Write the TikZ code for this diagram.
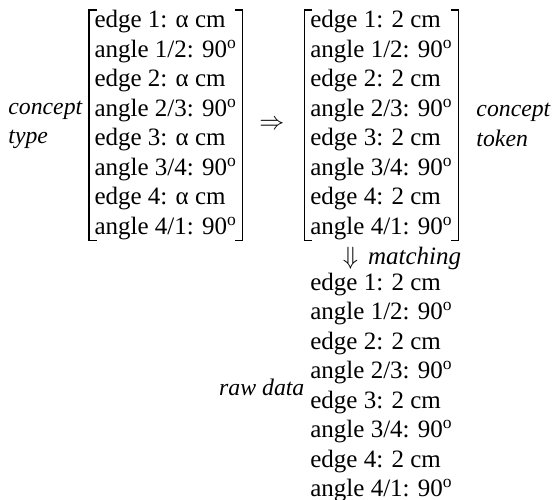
\documentclass[tikz,border=0pt]{standalone}
\usepackage{fontspec}
\setmainfont{Liberation Serif}
\usetikzlibrary{positioning}

\newcommand{\dg}{\textsuperscript{o}}

\begin{document}
\begin{tikzpicture}[
  node distance=2pt and 6pt,
  col/.style={align=left, inner xsep=2pt, inner ysep=0pt, font=\fontsize{10}{11.8}\selectfont},
  lbl/.style={align=left, inner sep=0pt, font=\fontsize{9.5}{11.8}\selectfont\itshape},
  brk/.style={line width=0.5pt}
]
\useasboundingbox (-35.6pt,4pt) rectangle (186pt,-196pt);
% concept type
\node[col, anchor=north west] (typeM) at (0,0) {edge 1: α cm\\angle 1/2: 90\dg\\edge 2: α cm\\angle 2/3: 90\dg\\edge 3: α cm\\angle 3/4: 90\dg\\edge 4: α cm\\angle 4/1: 90\dg};
\node[lbl, left=2.5pt of typeM] (typeL) {concept\\type};
\node[inner sep=0pt, right=6.5pt of typeM] (arrR) {$\Rightarrow$};
% concept token
\node[col, right=8pt of arrR] (tokenM) {edge 1: 2 cm\\angle 1/2: 90\dg\\edge 2: 2 cm\\angle 2/3: 90\dg\\edge 3: 2 cm\\angle 3/4: 90\dg\\edge 4: 2 cm\\angle 4/1: 90\dg};
\node[lbl, right=7pt of tokenM] (tokenL) {concept\\token};
% raw data
\node[inner sep=0pt, below=9.8pt of tokenM.south west, anchor=base west, xshift=15pt] (arrD) {$\Downarrow$\hspace{4pt}\textit{matching}};
\node[col, anchor=north west] (rawM) at ([yshift=-3.1pt]tokenM.west |- arrD.base) {edge 1: 2 cm\\angle 1/2: 90\dg\\edge 2: 2 cm\\angle 2/3: 90\dg\\edge 3: 2 cm\\angle 3/4: 90\dg\\edge 4: 2 cm\\angle 4/1: 90\dg};
\node[lbl, left=0pt of rawM] (rawL) {raw data};
% brackets
\draw[brk] ([xshift=3pt]typeM.north west) -- (typeM.north west) -- (typeM.south west) -- ([xshift=3pt]typeM.south west);
\draw[brk] ([xshift=-3pt]typeM.north east) -- (typeM.north east) -- (typeM.south east) -- ([xshift=-3pt]typeM.south east);
\draw[brk] ([xshift=3pt]tokenM.north west) -- (tokenM.north west) -- (tokenM.south west) -- ([xshift=3pt]tokenM.south west);
\draw[brk] ([xshift=-3pt]tokenM.north east) -- (tokenM.north east) -- (tokenM.south east) -- ([xshift=-3pt]tokenM.south east);
\end{tikzpicture}
\end{document}
